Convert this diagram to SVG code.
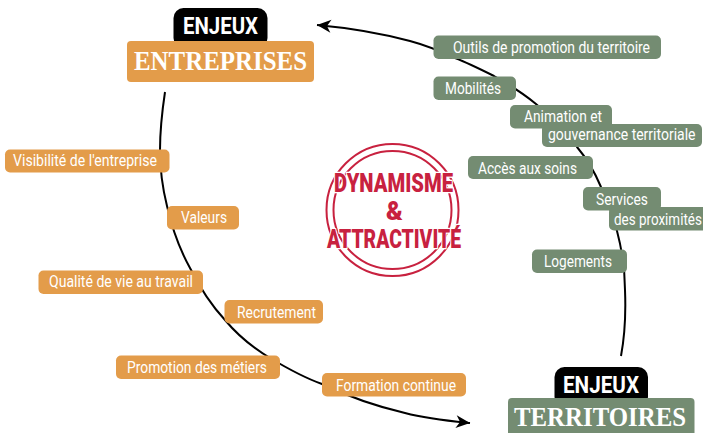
<svg xmlns="http://www.w3.org/2000/svg" width="703" height="433" viewBox="0 0 703 433">
<style>
.o{fill:#E39C4A}
.g{fill:#748C72}
.k{fill:#000}
.t{font:400 16px Roboto,"Liberation Sans",sans-serif;fill:#fff}
.h{font:700 23px Roboto,"Liberation Sans",sans-serif;fill:#fff}
.s{font:700 27px "Liberation Serif",serif;fill:#fff}
.c{font:900 25px Roboto,"Liberation Sans",sans-serif;fill:#C8213F;stroke:#fff;stroke-width:2.5px;paint-order:stroke;stroke-linejoin:round}
.l{fill:none;stroke:#000;stroke-width:2}
.r{fill:none;stroke:#C8213F;stroke-width:2}
</style>
<defs>
<marker id="a" markerUnits="userSpaceOnUse" markerWidth="16" markerHeight="14" refX="15" refY="6.5" orient="auto"><path d="M15,6.500 L1,0 L5,6.500 L1,13 Z" fill="#000"/></marker>
</defs>
<g id="connectors">
<path class="l" marker-end="url(#a)" d="M165,92 C162,112 160,130 160,150 C160,172 163,190 167,206 C172,228 180,250 190,268 C200,288 212,306 225,320 C240,338 255,349 270,358 C290,370 305,378 322,384 C345,395 375,406 405,413 C428,419 450,421 470,423"/>
<path class="l" marker-end="url(#a)" d="M621,356 C624,340 626,315 625,290 C625,270 622,250 617,231 C613,215 607,200 601,187 C596,175 588,160 577,147 C565,131 552,117 536,104 C524,94 510,85 494,76 C480,69 468,63 455,58 C440,51 425,45 410,41 C380,33 350,28 317,25"/>
</g>
<g id="hub">
<circle class="r" cx="392.500" cy="210" r="66"/>
<circle class="r" cx="392.500" cy="210" r="59"/>
<text class="c" x="334" y="192" textLength="119" lengthAdjust="spacingAndGlyphs">DYNAMISME</text>
<text class="c" x="386" y="220">&amp;</text>
<text class="c" x="327" y="248" textLength="134" lengthAdjust="spacingAndGlyphs">ATTRACTIVITÉ</text>
</g>
<g id="enjeux-entreprises">
<rect class="k" x="173.500" y="8" width="94" height="40" rx="10"/>
<rect class="o" x="127" y="41" width="187" height="41" rx="4"/>
<text class="h" x="183" y="33.500" textLength="75" lengthAdjust="spacingAndGlyphs">ENJEUX</text>
<text class="s" x="134" y="70" textLength="173" lengthAdjust="spacingAndGlyphs">ENTREPRISES</text>
</g>
<g id="enjeux-territoires">
<rect class="k" x="554.500" y="367" width="93.500" height="40" rx="10"/>
<rect class="g" x="508" y="398" width="186.500" height="45" rx="4"/>
<text class="h" x="563" y="392.500" textLength="76" lengthAdjust="spacingAndGlyphs">ENJEUX</text>
<text class="s" x="514" y="426" textLength="172" lengthAdjust="spacingAndGlyphs">TERRITOIRES</text>
</g>
<g id="visibilite"><rect class="o" x="5" y="149.500" width="164.500" height="23" rx="5"/><text class="t" x="13" y="166" textLength="144" lengthAdjust="spacingAndGlyphs">Visibilité de l'entreprise</text></g>
<g id="valeurs"><rect class="o" x="167" y="206" width="72" height="23.500" rx="5"/><text class="t" x="181" y="223" textLength="46" lengthAdjust="spacingAndGlyphs">Valeurs</text></g>
<g id="qualite"><rect class="o" x="38.500" y="270.500" width="164.500" height="23.500" rx="5"/><text class="t" x="49" y="287" textLength="144" lengthAdjust="spacingAndGlyphs">Qualité de vie au travail</text></g>
<g id="recrutement"><rect class="o" x="224.500" y="300" width="98.500" height="23.500" rx="5"/><text class="t" x="237" y="318" textLength="79" lengthAdjust="spacingAndGlyphs">Recrutement</text></g>
<g id="promotion"><rect class="o" x="116" y="355.500" width="164" height="23.500" rx="5"/><text class="t" x="127" y="373" textLength="140" lengthAdjust="spacingAndGlyphs">Promotion des métiers</text></g>
<g id="formation"><rect class="o" x="322" y="373" width="144" height="23.500" rx="5"/><text class="t" x="336" y="391" textLength="120" lengthAdjust="spacingAndGlyphs">Formation continue</text></g>
<g id="outils"><rect class="g" x="433.500" y="35.500" width="227.500" height="23.500" rx="5"/><text class="t" x="453" y="53" textLength="197" lengthAdjust="spacingAndGlyphs">Outils de promotion du territoire</text></g>
<g id="mobilites"><rect class="g" x="433.500" y="76.500" width="82.500" height="23.500" rx="5"/><text class="t" x="445" y="94" textLength="56" lengthAdjust="spacingAndGlyphs">Mobilités</text></g>
<g id="animation"><rect class="g" x="510" y="105" width="102" height="23.500" rx="5"/><rect class="g" x="542" y="124" width="160" height="23" rx="5"/><text class="t" x="524" y="122" textLength="78" lengthAdjust="spacingAndGlyphs">Animation et</text><text class="t" transform="translate(548 140) scale(.875 1)">gouvernance territoriale</text></g>
<g id="acces"><rect class="g" x="468" y="156" width="125" height="23" rx="5"/><text class="t" x="478" y="174" textLength="99" lengthAdjust="spacingAndGlyphs">Accès aux soins</text></g>
<g id="services"><rect class="g" x="583" y="187" width="78" height="23.500" rx="5"/><rect class="g" x="609" y="207" width="100" height="23.500" rx="5"/><text class="t" x="596" y="205" textLength="52" lengthAdjust="spacingAndGlyphs">Services</text><text class="t" transform="translate(614 225) scale(.84 1)">des proximités</text></g>
<g id="logements"><rect class="g" x="532" y="249.500" width="95" height="23.500" rx="5"/><text class="t" x="544" y="267" textLength="68" lengthAdjust="spacingAndGlyphs">Logements</text></g>
</svg>
